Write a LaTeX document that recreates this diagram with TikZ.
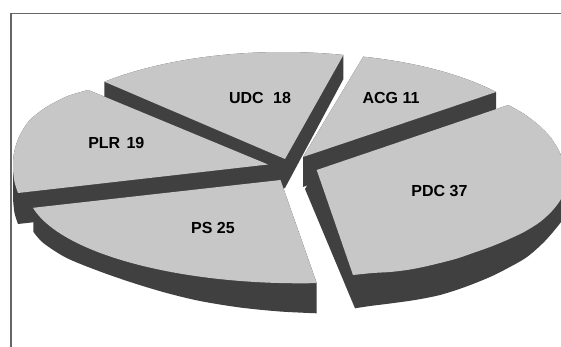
\documentclass[tikz,border=0pt]{standalone}
\usepackage{fontspec}
\setmainfont{Liberation Sans}
\definecolor{topc}{gray}{0.78}
\definecolor{wallc}{gray}{0.25}
\definecolor{framec}{gray}{0.40}
\begin{document}
\begin{tikzpicture}[x=1pt,y=-1pt,
  topface/.style={fill=topc},
  wall/.style={fill=wallc},
  lbl/.style={font=\fontsize{16}{18}\selectfont\bfseries, inner sep=0pt, text=black},
  framestyle/.style={draw=framec, line width=1.2pt}]
\useasboundingbox (0,0) rectangle (561,347);
\fill[white] (0,0) rectangle (561,347);
\clip (0,0) rectangle (561,347);

% apex points
\coordinate (AU) at (285,159);
\coordinate (AA) at (303,157);
\coordinate (AD) at (316.7,170);
\coordinate (AP) at (268,164.5);
\coordinate (AS) at (280.5,180);

% frame
\draw[framestyle] (561,13.3) -- (11,13.3) -- (11,347);

% UDC
\fill[wall] plot[domain=226:283.6,samples=40,variable=\t] ({283+257*cos(\t)},{158+106*sin(\t)})
   -- (343.4,79) -- (285,188) -- (270,192) -- (104.5,110) -- cycle;
\fill[topface] (AU) -- plot[domain=226:283.6,samples=40,variable=\t] ({283+257*cos(\t)},{158+106*sin(\t)}) -- cycle;

% ACG
\fill[wall] (AA) -- plot[domain=284.05:321.05,samples=30,variable=\t] ({303+248.3*cos(\t)},{157+103.4*sin(\t)})
   -- (496.1,117) -- (303,187) -- cycle;
\fill[topface] (AA) -- plot[domain=284.05:321.05,samples=30,variable=\t] ({303+248.3*cos(\t)},{157+103.4*sin(\t)}) -- cycle;

% PDC
\fill[wall] (AD) -- plot[smooth] coordinates {(508.3,105) (524,114) (539,125.5) (551,138) (560,153) (566,170) (568,190)}
   -- plot[smooth] coordinates {(566,212) (561,222) (545,241) (527,257) (508,268) (490,277) (465,287) (440,295) (415,300) (390,303.5) (370,306) (355,308.3)}
   -- (305,189) -- cycle;
\fill[topface] (AD) -- plot[smooth] coordinates {(508.3,105) (524,114) (539,125.5) (551,138) (560,153) (565,170) (565,186) (561,199) (552,211) (540,222) (524,232) (507,240) (490,247) (473,253) (457,258.5) (440,263) (423,267) (407,270) (390,272) (373,273) (353,275)} -- cycle;

% PLR
\fill[wall] (AP) -- plot[smooth] coordinates {(88.3,90) (66.7,96.5) (45,108) (29,121) (19,137) (14,153) (13,168)}
   -- plot[smooth] coordinates {(13,199) (14.5,213) (18,224)} -- (268,196) -- cycle;
\fill[topface] (AP) -- plot[smooth] coordinates {(88.3,90) (66.7,96.5) (45,108) (29,121) (19,137) (14,153) (13,168) (14.5,182) (18,193)} -- cycle;

% PS
\fill[wall] (AS) -- (33,207.8) -- plot[smooth] coordinates {(33.5,232) (43.3,243) (66.7,258) (100,271.5) (133.3,283) (166.7,293) (200,301) (240,307.5) (280,311.5) (316.7,313.3)}
   -- (316.7,283.1) -- cycle;
\fill[topface] (AS) -- plot[domain=168:86.5,samples=50,variable=\t] ({300+273*cos(\t)},{188+95.3*sin(\t)}) -- cycle;

% labels
\node[lbl] (udc) at (260,98.3) {UDC\hspace{9.4pt}18};
\node[lbl] (acg) at (391,97.5) {ACG 11};
\node[lbl] (plr) at (116.3,142.5) {PLR\hspace{6.3pt}19};
\node[lbl] (pdc) at (439.5,190.8) {PDC 37};
\node[lbl] (ps) at (213,227.8) {PS 25};
\end{tikzpicture}
\end{document}
